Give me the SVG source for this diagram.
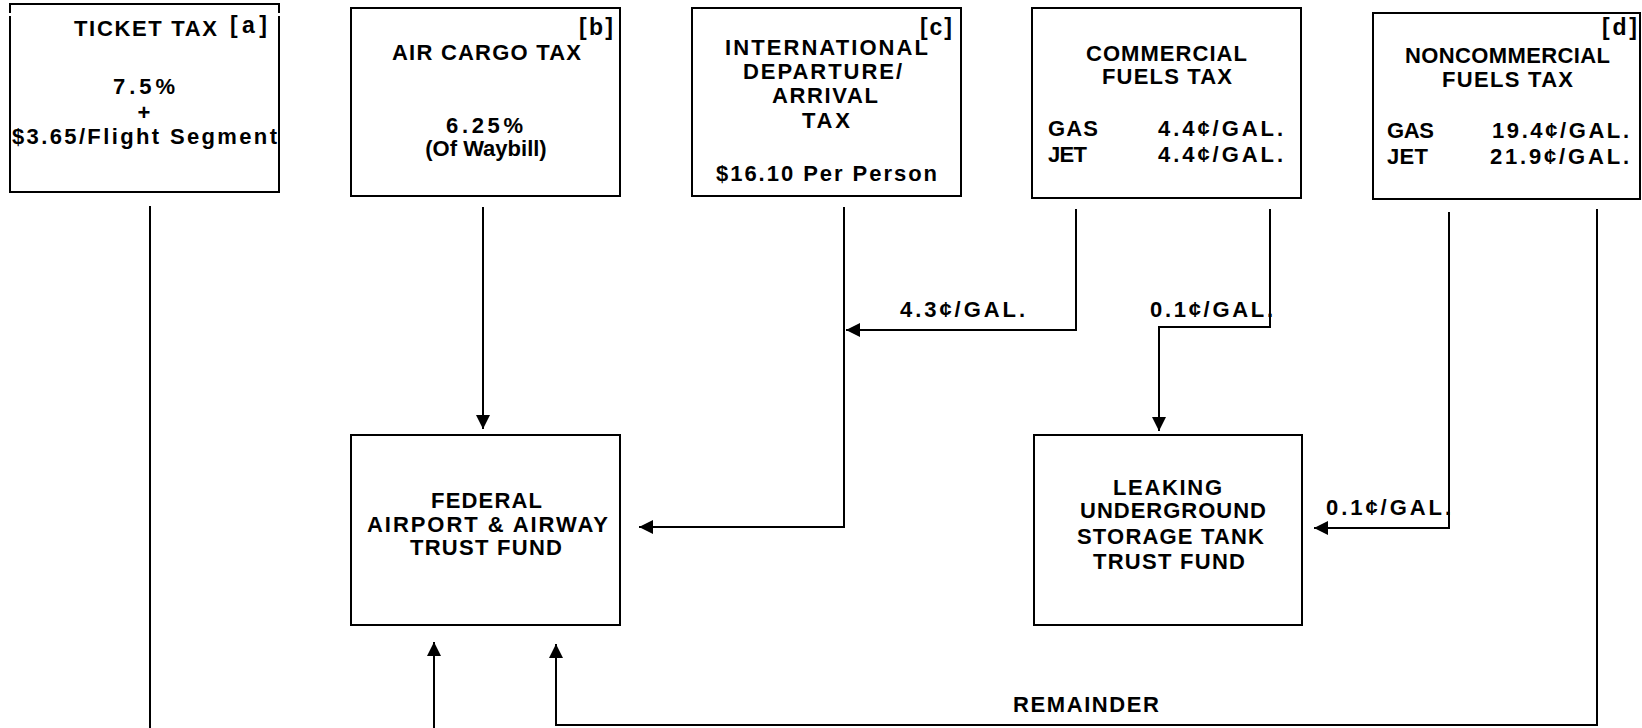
<svg xmlns="http://www.w3.org/2000/svg" width="1642" height="728" viewBox="0 0 1642 728">
  <style>
    .box { fill: #fff; stroke: #000; stroke-width: 2; }
    .edge { fill: none; stroke: #000; stroke-width: 2; }
    .t { font-family: "Liberation Sans", Arial, sans-serif; font-weight: bold; font-size: 22px; fill: #000; }
    .n { font-family: "Liberation Sans", Arial, sans-serif; font-weight: bold; font-size: 23px; fill: #000; }
    .c { text-anchor: middle; }
  </style>
  <defs>
    <marker id="arrow" viewBox="0 0 14 14" refX="14" refY="7" markerWidth="14" markerHeight="14" markerUnits="userSpaceOnUse" orient="auto">
      <path d="M0,0 L14,7 L0,14 z" fill="#000"/>
    </marker>
  </defs>
  <rect width="1642" height="728" fill="#fff"/>

  <!-- Ticket tax -->
  <g id="ticket-tax">
    <path class="edge" d="M10,13 V4 H279 V13"/>
    <path class="edge" d="M10,16 V192 H279 V16"/>
    <text class="t" x="74" y="36" textLength="143" lengthAdjust="spacing">TICKET TAX</text>
    <text class="n" x="230" y="33" textLength="37" lengthAdjust="spacing">[a]</text>
    <text class="t" x="113" y="94" textLength="62" lengthAdjust="spacing">7.5%</text>
    <text class="t c" x="144" y="120">+</text>
    <text class="t" x="12" y="144" textLength="265" lengthAdjust="spacing">$3.65/Flight Segment</text>
  </g>

  <!-- Air cargo tax -->
  <g id="air-cargo-tax">
    <rect class="box" x="351" y="8" width="269" height="188"/>
    <text class="n" x="579" y="35" textLength="34" lengthAdjust="spacing">[b]</text>
    <text class="t" x="392" y="60" textLength="189" lengthAdjust="spacing">AIR CARGO TAX</text>
    <text class="t" x="446" y="133" textLength="77" lengthAdjust="spacing">6.25%</text>
    <text class="t c" x="486" y="156">(Of Waybill)</text>
  </g>

  <!-- International departure/arrival tax -->
  <g id="intl-tax">
    <rect class="box" x="692" y="8" width="269" height="188"/>
    <text class="n" x="920" y="35" textLength="32" lengthAdjust="spacing">[c]</text>
    <text class="t" x="725" y="55" textLength="203" lengthAdjust="spacing">INTERNATIONAL</text>
    <text class="t" x="743" y="79" textLength="159" lengthAdjust="spacing">DEPARTURE/</text>
    <text class="t" x="772" y="103" textLength="106" lengthAdjust="spacing">ARRIVAL</text>
    <text class="t" x="802" y="128" textLength="48" lengthAdjust="spacing">TAX</text>
    <text class="t" x="716" y="181" textLength="221" lengthAdjust="spacing">$16.10 Per Person</text>
  </g>

  <!-- Commercial fuels tax -->
  <g id="commercial-fuels-tax">
    <rect class="box" x="1032" y="8" width="269" height="190"/>
    <text class="t" x="1086" y="61" textLength="161" lengthAdjust="spacing">COMMERCIAL</text>
    <text class="t" x="1102" y="84" textLength="130" lengthAdjust="spacing">FUELS TAX</text>
    <text class="t" x="1048" y="136" textLength="50" lengthAdjust="spacing">GAS</text>
    <text class="t" x="1158" y="136" textLength="125" lengthAdjust="spacing">4.4¢/GAL.</text>
    <text class="t" x="1048" y="162" textLength="39" lengthAdjust="spacing">JET</text>
    <text class="t" x="1158" y="162" textLength="125" lengthAdjust="spacing">4.4¢/GAL.</text>
  </g>

  <!-- Noncommercial fuels tax -->
  <g id="noncommercial-fuels-tax">
    <rect class="box" x="1373" y="13" width="267" height="186"/>
    <text class="n" x="1602" y="35" textLength="35" lengthAdjust="spacing">[d]</text>
    <text class="t" x="1405" y="63" textLength="205" lengthAdjust="spacing">NONCOMMERCIAL</text>
    <text class="t" x="1442" y="87" textLength="131" lengthAdjust="spacing">FUELS TAX</text>
    <text class="t" x="1387" y="138" textLength="47" lengthAdjust="spacing">GAS</text>
    <text class="t" x="1492" y="138" textLength="137" lengthAdjust="spacing">19.4¢/GAL.</text>
    <text class="t" x="1387" y="164" textLength="41" lengthAdjust="spacing">JET</text>
    <text class="t" x="1490" y="164" textLength="139" lengthAdjust="spacing">21.9¢/GAL.</text>
  </g>

  <!-- Federal Airport & Airway Trust Fund -->
  <g id="airport-airway-trust-fund">
    <rect class="box" x="351" y="435" width="269" height="190"/>
    <text class="t" x="431" y="508" textLength="111" lengthAdjust="spacing">FEDERAL</text>
    <text class="t" x="367" y="532" textLength="241" lengthAdjust="spacing">AIRPORT &amp; AIRWAY</text>
    <text class="t" x="410" y="555" textLength="152" lengthAdjust="spacing">TRUST FUND</text>
  </g>

  <!-- Leaking Underground Storage Tank Trust Fund -->
  <g id="lust-trust-fund">
    <rect class="box" x="1034" y="435" width="268" height="190"/>
    <text class="t" x="1113" y="495" textLength="109" lengthAdjust="spacing">LEAKING</text>
    <text class="t" x="1080" y="518" textLength="186" lengthAdjust="spacing">UNDERGROUND</text>
    <text class="t" x="1077" y="544" textLength="187" lengthAdjust="spacing">STORAGE TANK</text>
    <text class="t" x="1093" y="569" textLength="152" lengthAdjust="spacing">TRUST FUND</text>
  </g>

  <!-- Flows between taxes and trust funds -->
  <g id="connectors">
    <path class="edge" d="M150,206 V728"/>
    <path class="edge" d="M483,207 V429" marker-end="url(#arrow)"/>
    <path class="edge" d="M844,207 V527 H639" marker-end="url(#arrow)"/>
    <path class="edge" d="M1076,209 V330 H846" marker-end="url(#arrow)"/>
    <path class="edge" d="M1270,209 V327 H1159 V431" marker-end="url(#arrow)"/>
    <path class="edge" d="M1449,212 V528 H1314" marker-end="url(#arrow)"/>
    <path class="edge" d="M1597,209 V725 H556 V644" marker-end="url(#arrow)"/>
    <path class="edge" d="M434,728 V642" marker-end="url(#arrow)"/>
    <text class="t" x="900" y="317" textLength="125" lengthAdjust="spacing">4.3¢/GAL.</text>
    <text class="t" x="1150" y="317" textLength="123" lengthAdjust="spacing">0.1¢/GAL.</text>
    <text class="t" x="1326" y="515" textLength="125" lengthAdjust="spacing">0.1¢/GAL.</text>
    <text class="t" x="1013" y="712" textLength="146" lengthAdjust="spacing">REMAINDER</text>
  </g>
</svg>
